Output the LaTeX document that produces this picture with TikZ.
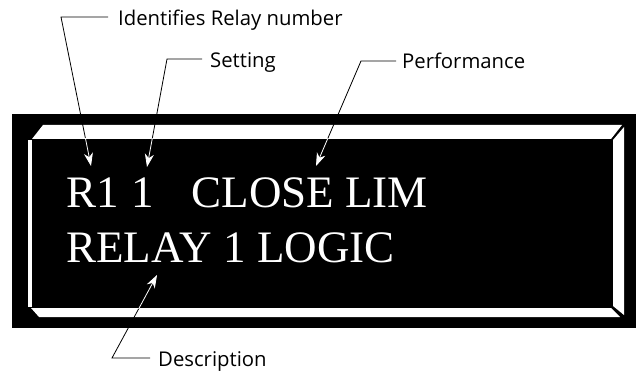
\documentclass[tikz,border=0pt]{standalone}
\usepackage{fontspec}
\setmainfont{Liberation Serif}
\newfontfamily\labelfont[Ligatures=NoCommon]{Open Sans}
\usetikzlibrary{arrows.meta}
\begin{document}
\begin{tikzpicture}[x=1pt,y=-1pt,
  lbl/.style={anchor=base west,inner sep=0pt,font=\labelfont\fontsize{20.3}{20.3}\selectfont},
  lcd/.style={anchor=base west,inner sep=0pt,text=white,font=\fontsize{45}{45}\selectfont},
  leader/.style={draw=black,line width=0.8pt},
  inarrow/.style={draw=white,line width=0.8pt,-{Stealth[length=13pt,width=9pt,inset=4pt,fill=white]}}]
\useasboundingbox (0,0) rectangle (637,371);
% display frame
\fill[black] (12,114) rectangle (636,328);
\fill[white] (43,125) -- (622,125) -- (611,139) -- (32,139) -- cycle;
\fill[white] (624,127) -- (624,315) -- (613,306) -- (613,140) -- cycle;
\fill[white] (28,140) rectangle (32,307);
\fill[white] (31,308) -- (611,308) -- (620,317) -- (39,317) -- cycle;
% display text
\node[lcd] (r1) at (66,208) {R1};
\node[lcd] (set) at (131,208) {1};
\node[lcd] (perf) at (191.5,208) {CLOSE LIM};
\node[lcd] (desc) at (66,263) {RELAY 1 LOGIC};
% labels
\node[lbl] (l1) at (118,26) {Identifies Relay number};
\node[lbl] (l2) at (210,68) {Setting};
\node[lbl] (l3) at (402,69) {Performance};
\node[lbl] (l4) at (158,366) {Description};
% leader geometry
\coordinate (e1) at (108,17);  \coordinate (c1) at (61,17);  \coordinate (t1) at (91,166);
\coordinate (e2) at (202,59);  \coordinate (c2) at (167,59); \coordinate (t2) at (147,167);
\coordinate (e3) at (396,61);  \coordinate (c3) at (361,61); \coordinate (t3) at (316,166);
\coordinate (e4) at (150,358); \coordinate (c4) at (112,358); \coordinate (t4) at (157,275);
\draw[leader] (e1) -- (c1) -- (t1);
\draw[leader] (e2) -- (c2) -- (t2);
\draw[leader] (e3) -- (c3) -- (t3);
\draw[leader] (e4) -- (c4) -- (t4);
\begin{scope}
\clip (12,139) rectangle (636,308);
\draw[inarrow] (c1) -- (t1);
\draw[inarrow] (c2) -- (t2);
\draw[inarrow] (c3) -- (t3);
\draw[inarrow] (c4) -- (t4);
\end{scope}
\end{tikzpicture}
\end{document}
